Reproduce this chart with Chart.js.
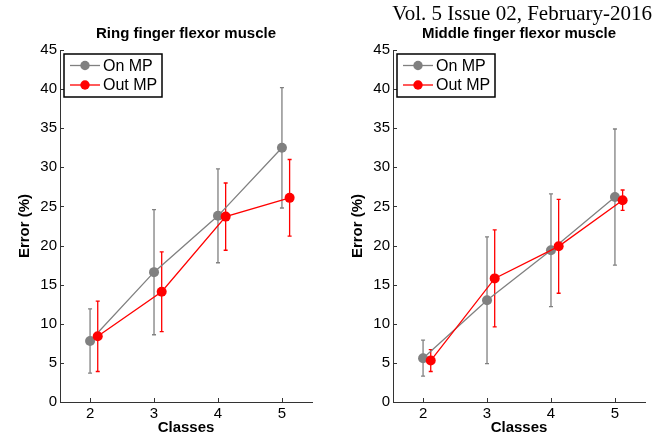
<!DOCTYPE html>
<html>
<head>
<meta charset="utf-8">
<script src="https://cdn.jsdelivr.net/npm/chart.js@4.4.1/dist/chart.umd.min.js"></script>
<style>
    html, body { margin: 0; padding: 0; background: #fff; }
    #wrap { position: relative; width: 670px; height: 439px; overflow: hidden; }
    .panel { position: absolute; top: 0; width: 335px; height: 439px; }
    #header {
        position: absolute; right: 18px; top: 3px;
        font-family: "Liberation Serif", "Times New Roman", serif;
        font-size: 21px; line-height: 21px; color: #000; white-space: nowrap;
    }
</style>
</head>
<body>
<div id="wrap">
    <div class="panel" style="left:0"><canvas id="chartRing" width="335" height="439"></canvas></div>
    <div class="panel" style="left:333px"><canvas id="chartMiddle" width="335" height="439"></canvas></div>
    <div id="header">Vol. 5 Issue 02, February-2016</div>
</div>
<script>
const classes = [2, 3, 4, 5];
const classesOut = [2.12, 3.12, 4.12, 5.12];
const yTicks = [0, 5, 10, 15, 20, 25, 30, 35, 40, 45];

const ringOnMean = [7.8, 16.6, 23.8, 32.5];
const ringOnSd = [4.1, 8.0, 6.0, 7.7];
const ringOutMean = [8.4, 14.1, 23.7, 26.1];
const ringOutSd = [4.5, 5.1, 4.3, 4.9];

const middleOnMean = [5.6, 13.0, 19.4, 26.2];
const middleOnSd = [2.3, 8.1, 7.2, 8.7];
const middleOutMean = [5.3, 15.8, 19.9, 25.8];
const middleOutSd = [1.4, 6.2, 6.0, 1.3];

const gray = '#808080';
const red = '#ff0000';
const axisColor = '#333333';
const sans = '"Liberation Sans", Arial, sans-serif';

function points(xs, ys) {
    return xs.map(function (x, i) { return { x: x, y: ys[i] }; });
}

// vertical error bars with small caps, drawn under the lines
const errorBars = {
    id: 'errorBars',
    beforeDatasetsDraw(chart) {
        const ctx = chart.ctx;
        const xs = chart.scales.x, ys = chart.scales.y;
        ctx.save();
        chart.data.datasets.slice().reverse().forEach(function (ds) {
            ctx.strokeStyle = ds.borderColor;
            ctx.lineWidth = 1.3;
            ds.data.forEach(function (p, j) {
                const px = xs.getPixelForValue(p.x);
                const top = ys.getPixelForValue(p.y + ds.sd[j]);
                const bot = ys.getPixelForValue(p.y - ds.sd[j]);
                ctx.beginPath();
                ctx.moveTo(px, top); ctx.lineTo(px, bot);
                ctx.moveTo(px - 2, top); ctx.lineTo(px + 2, top);
                ctx.moveTo(px - 2, bot); ctx.lineTo(px + 2, bot);
                ctx.stroke();
            });
        });
        ctx.restore();
    }
};

// tick marks pointing into the plot, like the original
const innerTicks = {
    id: 'innerTicks',
    afterDraw(chart) {
        const ctx = chart.ctx;
        const area = chart.chartArea;
        const xs = chart.scales.x, ys = chart.scales.y;
        ctx.save();
        ctx.strokeStyle = axisColor;
        ctx.lineWidth = 1;
        ctx.beginPath();
        yTicks.forEach(function (v) {
            const py = Math.round(ys.getPixelForValue(v)) + 0.5;
            ctx.moveTo(area.left, py); ctx.lineTo(area.left + 4, py);
        });
        classes.forEach(function (v) {
            const px = Math.round(xs.getPixelForValue(v)) + 0.5;
            ctx.moveTo(px, area.bottom); ctx.lineTo(px, area.bottom - 4);
        });
        ctx.stroke();
        ctx.restore();
    }
};

// title centred over the plot area rather than the whole canvas
const panelTitle = {
    id: 'panelTitle',
    afterDraw(chart, args, opts) {
        const ctx = chart.ctx;
        const area = chart.chartArea;
        ctx.save();
        ctx.fillStyle = '#000';
        ctx.font = 'bold 15px ' + sans;
        ctx.textAlign = 'center';
        ctx.textBaseline = 'middle';
        ctx.fillText(opts.text, (area.left + area.right) / 2, 34);
        ctx.restore();
    }
};

const legendBox = {
    id: 'legendBox',
    afterDraw(chart) {
        const ctx = chart.ctx;
        const area = chart.chartArea;
        const x = area.left + 4, y = area.top + 4;
        const w = 98, h = 43;
        ctx.save();
        ctx.fillStyle = '#fff';
        ctx.fillRect(x, y, w, h);
        ctx.strokeStyle = '#000';
        ctx.lineWidth = 1.5;
        ctx.strokeRect(x, y, w, h);
        chart.data.datasets.forEach(function (ds, i) {
            const ry = y + 11.5 + i * 19.5;
            ctx.strokeStyle = ds.borderColor;
            ctx.lineWidth = 1.3;
            ctx.beginPath();
            ctx.moveTo(x + 6, ry); ctx.lineTo(x + 36, ry);
            ctx.stroke();
            ctx.fillStyle = ds.borderColor;
            ctx.beginPath();
            ctx.arc(x + 21, ry, 4.7, 0, Math.PI * 2);
            ctx.fill();
            ctx.fillStyle = '#000';
            ctx.font = '16px ' + sans;
            ctx.textBaseline = 'middle';
            ctx.fillText(ds.label, x + 39, ry + 1);
        });
        ctx.restore();
    }
};

function makeChart(id, title, onMean, onSd, outMean, outSd) {
    const series = function (label, xs, mean, sd, color, order) {
        return {
            label: label,
            data: points(xs, mean),
            sd: sd,
            borderColor: color,
            backgroundColor: color,
            borderWidth: 1.3,
            pointRadius: 5,
            pointHoverRadius: 5,
            pointBorderWidth: 0,
            showLine: true,
            order: order,
        };
    };
    return new Chart(document.getElementById(id), {
        type: 'scatter',
        data: {
            datasets: [
                series('On MP', classes, onMean, onSd, gray, 1),
                series('Out MP', classesOut, outMean, outSd, red, 0),
            ],
        },
        options: {
            responsive: false,
            animation: false,
            layout: { padding: { left: 0, right: 23, top: 50, bottom: 0 } },
            plugins: {
                legend: { display: false },
                tooltip: { enabled: false },
                title: { display: false },
                panelTitle: { text: title },
            },
            scales: {
                x: {
                    type: 'linear',
                    min: 1.53,
                    max: 5.47,
                    afterBuildTicks(scale) { scale.ticks = classes.map(function (v) { return { value: v }; }); },
                    afterFit(scale) { scale.height = 37; },
                    grid: { display: false, drawTicks: false },
                    border: { display: true, color: axisColor, width: 1 },
                    ticks: { color: '#000', padding: 3, font: { family: sans, size: 15 } },
                    title: {
                        display: true, text: 'Classes', color: '#000',
                        font: { family: sans, size: 15, weight: 'bold', lineHeight: 1.2 },
                        padding: { top: 0, bottom: 2 },
                    },
                },
                y: {
                    min: 0,
                    max: 45,
                    afterBuildTicks(scale) { scale.ticks = yTicks.map(function (v) { return { value: v }; }); },
                    afterFit(scale) { scale.width = 60; },
                    grid: { display: false, drawTicks: false },
                    border: { display: true, color: axisColor, width: 1 },
                    ticks: { color: '#000', padding: 3, font: { family: sans, size: 15 } },
                    title: {
                        display: true, text: 'Error (%)', color: '#000',
                        font: { family: sans, size: 15, weight: 'bold', lineHeight: 1.2 },
                        padding: { top: 16, bottom: 0 },
                    },
                },
            },
        },
        plugins: [errorBars, innerTicks, panelTitle, legendBox],
    });
}

makeChart('chartRing', 'Ring finger flexor muscle', ringOnMean, ringOnSd, ringOutMean, ringOutSd);
makeChart('chartMiddle', 'Middle finger flexor muscle', middleOnMean, middleOnSd, middleOutMean, middleOutSd);
</script>
</body>
</html>
